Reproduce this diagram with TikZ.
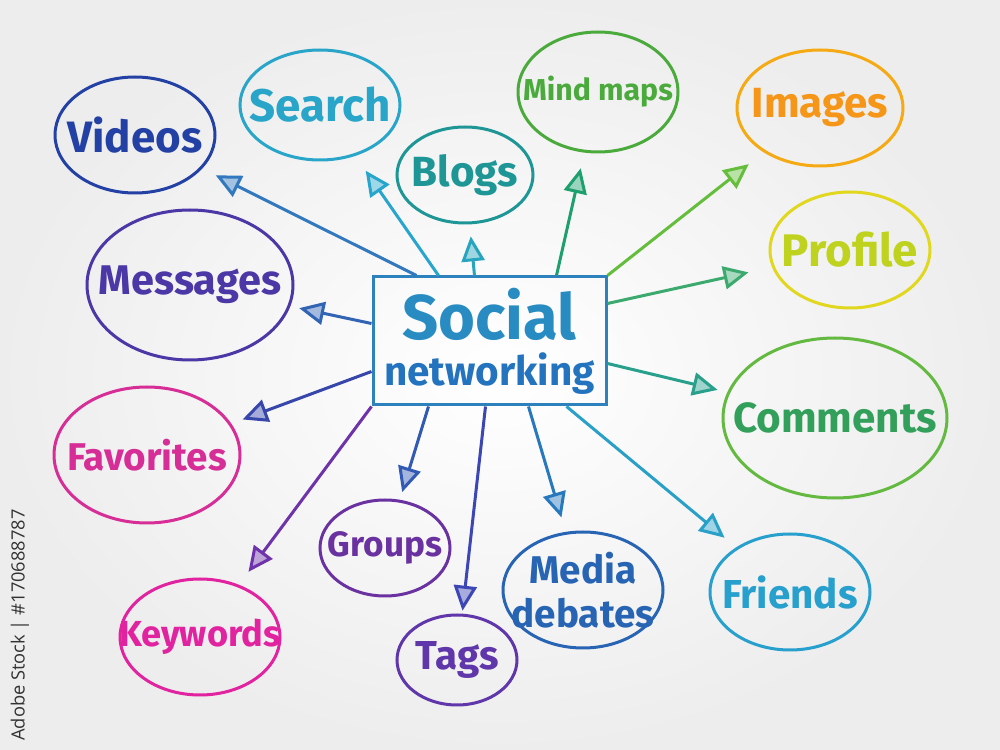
\documentclass[tikz,border=0pt]{standalone}
\usepackage{fontspec}
\setmainfont{Fira Sans}
\newfontfamily\stockfont{Open Sans}
\usetikzlibrary{shapes.geometric,arrows.meta}

\definecolor{cvid}{RGB}{35,65,165}
\definecolor{cmsg}{RGB}{75,55,165}
\definecolor{cfav}{RGB}{215,45,150}
\definecolor{ckey}{RGB}{225,35,160}
\definecolor{cgrp}{RGB}{105,50,160}
\definecolor{ctag}{RGB}{95,55,170}
\definecolor{cmed}{RGB}{40,100,180}
\definecolor{cfri}{RGB}{40,160,205}
\definecolor{ccom}{RGB}{100,185,65}
\definecolor{tcom}{RGB}{50,160,90}
\definecolor{cpro}{RGB}{225,215,30}
\definecolor{tpro}{RGB}{190,210,30}
\definecolor{cimg}{RGB}{245,170,20}
\definecolor{timg}{RGB}{245,150,25}
\definecolor{cmind}{RGB}{75,170,60}
\definecolor{cblg}{RGB}{30,150,150}
\definecolor{csrc}{RGB}{40,165,200}
\definecolor{chub}{RGB}{45,130,190}
\definecolor{tsoc}{RGB}{40,140,195}
\definecolor{tnet}{RGB}{35,115,190}

\definecolor{avid}{RGB}{50,120,190}
\definecolor{asrc}{RGB}{40,165,205}
\definecolor{ablg}{RGB}{40,165,190}
\definecolor{amind}{RGB}{30,160,110}
\definecolor{aimg}{RGB}{100,190,60}
\definecolor{apro}{RGB}{60,170,110}
\definecolor{acom}{RGB}{40,160,140}
\definecolor{afri}{RGB}{40,160,200}
\definecolor{amed}{RGB}{40,120,190}
\definecolor{atag}{RGB}{60,70,180}
\definecolor{agrp}{RGB}{50,90,180}
\definecolor{akey}{RGB}{110,50,170}
\definecolor{afav}{RGB}{55,70,170}
\definecolor{amsg}{RGB}{50,100,180}

\begin{document}
\begin{tikzpicture}[x=0.1mm,y=-0.1mm,
    topic/.style={draw=#1, ellipse, line width=0.3mm, inner sep=0pt},
    word/.style={text=#1, align=center, inner sep=0pt},
    link/.style={draw=#1, line width=0.3mm, -{Triangle[length=2.5mm,width=2.3mm,fill=#1!45]}}]

    \shade[inner color=white, outer color=black!7] (0,0) rectangle (1000,750);
    \useasboundingbox (0,0) rectangle (1000,750);

    \node[draw=chub, line width=0.3mm, minimum width=23.3mm, minimum height=12.8mm, align=center, font=\bfseries, inner sep=0pt] (hub) at (489.5,341)
        {{\color{tsoc}\fontsize{18}{18}\selectfont Social}\\[0.4mm]{\color{tnet}\fontsize{11.5}{13}\selectfont networking}};

    \node[topic=cvid, minimum width=16mm, minimum height=11.6mm, label={[word=cvid, font=\bfseries\fontsize{12.5}{15}\selectfont]center:Videos}] (vid) at (135,135) {};
    \node[topic=csrc, minimum width=16mm, minimum height=11mm, label={[word=csrc, font=\bfseries\fontsize{13}{15}\selectfont]center:Search}] (srch) at (320,105) {};
    \node[topic=cblg, minimum width=13.6mm, minimum height=9.6mm, label={[word=cblg, font=\bfseries\fontsize{12}{14}\selectfont]center:Blogs}] (blg) at (465,175) {};
    \node[topic=cmind, minimum width=16mm, minimum height=12mm, label={[word=cmind, font=\bfseries\fontsize{8.6}{11}\selectfont]center:Mind maps}] (mind) at (598,92) {};
    \node[topic=cimg, minimum width=16.6mm, minimum height=11.6mm, label={[word=timg, font=\bfseries\fontsize{12}{14}\selectfont]center:Images}] (img) at (820,108) {};
    \node[topic=cpro, minimum width=16mm, minimum height=11.6mm, label={[word=tpro, font=\bfseries\fontsize{13}{15}\selectfont]center:Profile}] (pro) at (850,250) {};
    \node[topic=ccom, minimum width=22.4mm, minimum height=16mm, label={[word=tcom, font=\bfseries\fontsize{12}{15}\selectfont]center:Comments}] (com) at (835,418) {};
    \node[topic=cfri, minimum width=16mm, minimum height=11.6mm, label={[word=cfri, font=\bfseries\fontsize{11.5}{14}\selectfont]center:Friends}] (fri) at (790,592) {};
    \node[topic=cmed, minimum width=16mm, minimum height=11.6mm, label={[word=cmed, font=\bfseries\fontsize{11}{12.5}\selectfont]center:Media\\debates}] (med) at (583,590) {};
    \node[topic=ctag, minimum width=12mm, minimum height=9mm, label={[word=ctag, font=\bfseries\fontsize{11.5}{14}\selectfont]center:Tags}] (tag) at (457,660) {};
    \node[topic=cgrp, minimum width=13mm, minimum height=9.6mm, label={[word=cgrp, font=\bfseries\fontsize{10}{12}\selectfont]center:Groups}] (grp) at (385,548) {};
    \node[topic=ckey, minimum width=16mm, minimum height=11.6mm, label={[word=ckey, font=\bfseries\fontsize{10.3}{12}\selectfont]center:Keywords}] (key) at (200,637) {};
    \node[topic=cfav, minimum width=18.6mm, minimum height=13.6mm, label={[word=cfav, font=\bfseries\fontsize{11}{13}\selectfont]center:Favorites}] (fav) at (147,455) {};
    \node[topic=cmsg, minimum width=20.6mm, minimum height=15mm, label={[word=cmsg, font=\bfseries\fontsize{11.8}{14}\selectfont]center:Messages}] (msg) at (190,285) {};

    \draw[link=avid, shorten >=1.5mm] ([xshift=4.5mm]hub.north west) -- (vid);
    \draw[link=asrc, shorten >=1.8mm] ([xshift=6.7mm]hub.north west) -- (srch);
    \draw[link=ablg, shorten >=1.2mm] ([xshift=10.3mm]hub.north west) -- (blg);
    \draw[link=amind, shorten >=1.6mm] ([xshift=18.5mm]hub.north west) -- (mind);
    \draw[link=aimg, shorten >=1.9mm] (hub.north east) -- (img);
    \draw[link=apro, shorten >=2.4mm] ([yshift=-2.8mm]hub.north east) -- (pro);
    \draw[link=acom, shorten >=1mm] ([yshift=-8.8mm]hub.north east) -- (com);
    \draw[link=afri, shorten >=1.5mm] ([xshift=-4.1mm]hub.south east) -- (fri);
    \draw[link=amed, shorten >=1.5mm] ([xshift=-7.9mm]hub.south east) -- (med);
    \draw[link=atag, shorten >=0.3mm] ([xshift=11.4mm]hub.south west) -- (tag);
    \draw[link=agrp, shorten >=0.8mm] ([xshift=5.7mm]hub.south west) -- (grp);
    \draw[link=akey, shorten >=1.6mm] (hub.south west) -- (key);
    \draw[link=afav, shorten >=1.2mm] ([yshift=3.5mm]hub.south west) -- (fav);
    \draw[link=amsg, shorten >=0.9mm] ([yshift=-4.8mm]hub.north west) -- (msg);

    \node[rotate=90, text=black!80, font=\stockfont\fontsize{5.2}{6}\selectfont] (stock) at (20,625) {Adobe Stock | \#170688787};
\end{tikzpicture}
\end{document}
